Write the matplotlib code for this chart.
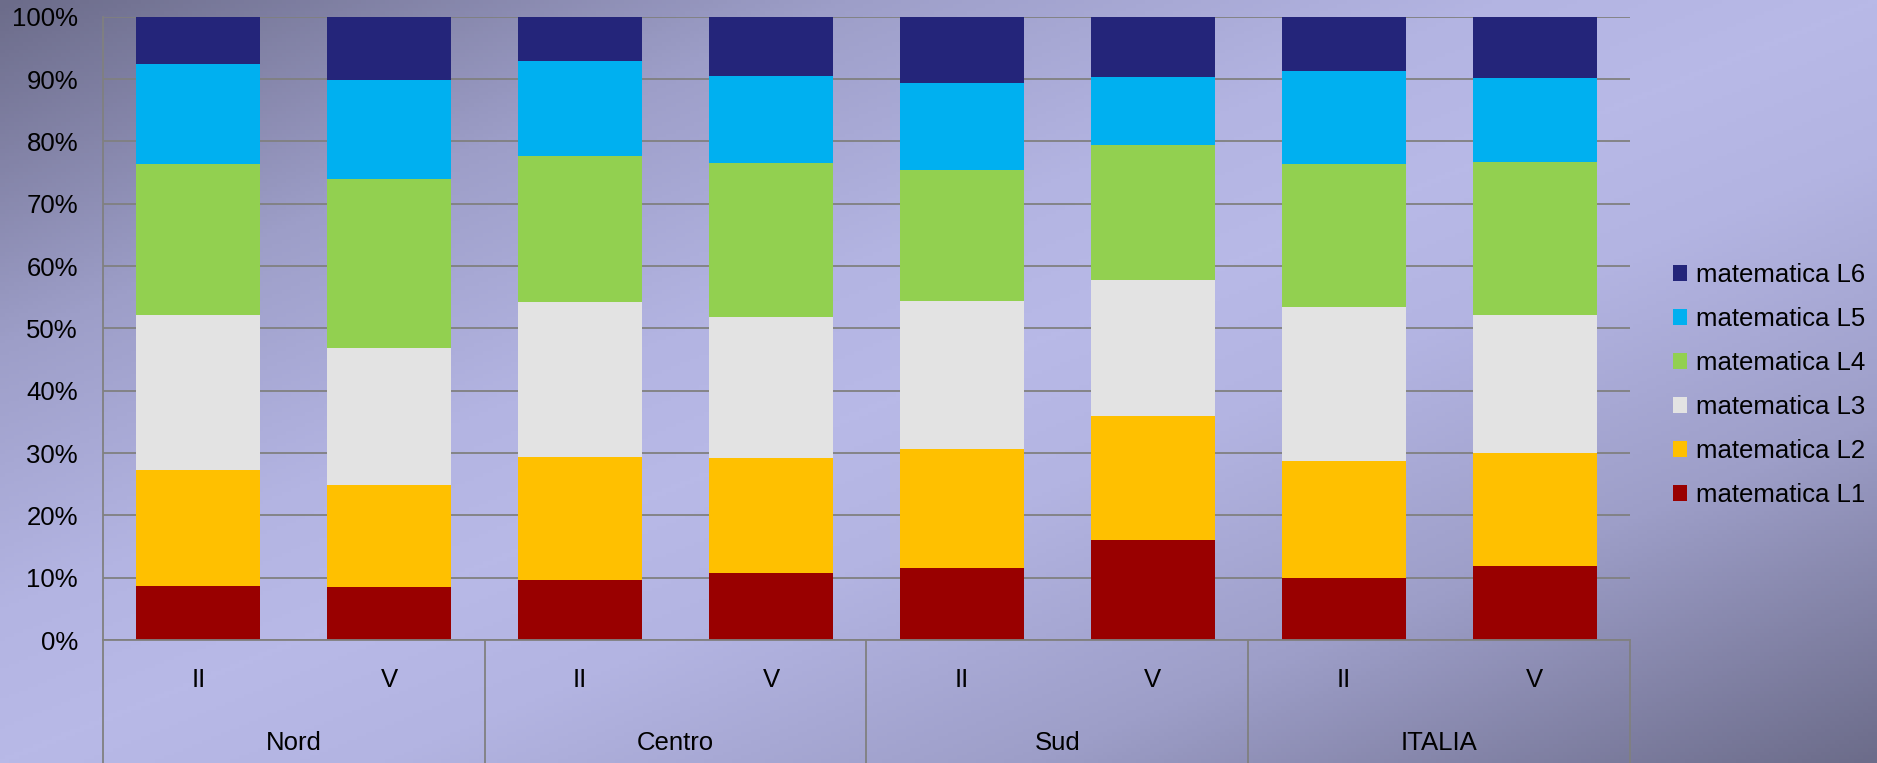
import numpy as np
import matplotlib
matplotlib.use("Agg")
import matplotlib.pyplot as plt
from matplotlib.colors import LinearSegmentedColormap

plt.rcParams['font.family'] = ['Liberation Sans', 'DejaVu Sans']

# dati (percentuali per livello)
regioni = ["Nord", "Centro", "Sud", "ITALIA"]
classi = ["II", "V", "II", "V", "II", "V", "II", "V"]
livelli = ["matematica L1", "matematica L2", "matematica L3",
           "matematica L4", "matematica L5", "matematica L6"]
L1 = [8.7, 8.5, 9.7, 10.8, 11.6, 16.1, 9.9, 11.9]
L2 = [18.6, 16.4, 19.7, 18.4, 19.0, 19.9, 18.9, 18.1]
L3 = [24.9, 21.9, 24.9, 22.6, 23.8, 21.8, 24.7, 22.1]
L4 = [24.2, 27.2, 23.3, 24.7, 21.0, 21.6, 22.8, 24.6]
L5 = [16.1, 15.8, 15.3, 14.0, 14.0, 11.0, 15.0, 13.5]
L6 = [7.5, 10.2, 7.1, 9.5, 10.6, 9.6, 8.7, 9.8]
colori = ["#990000", "#FFC000", "#E3E3E3", "#92D050", "#00B0F0", "#24257A"]

FS = 18.5
W, H = 1877, 763
fig = plt.figure(figsize=(W / 100, H / 100), dpi=100)

# sfondo sfumato in diagonale
bg = fig.add_axes([0, 0, 1, 1], zorder=-1)
xx, yy = np.meshgrid(np.linspace(0, 1, 400), np.linspace(0, 1, 200))
t = (xx + yy) / 2
v = 1 - np.abs(t - 0.5) * 2
cmap = LinearSegmentedColormap.from_list("bg", [(0, "#6c6c8a"), (0.45, "#9d9ec8"), (0.8, "#b3b4e2"), (1, "#b8b9e7")])
bg.imshow(v, cmap=cmap, aspect="auto", extent=[0, 1, 0, 1], origin="upper")
bg.axis("off")

left, right, top, bottom = 103, 1630, 16.8, 640
ax = fig.add_axes([left / W, 1 - bottom / H, (right - left) / W, (bottom - top) / H])
ax.set_facecolor("none")

x = np.arange(len(classi))
serie = [L1, L2, L3, L4, L5, L6]
tot = np.array(serie).sum(axis=0)
base = np.zeros(len(classi))
barre = []
for vals, col, lab in zip(serie, colori, livelli):
    perc = np.array(vals) / tot * 100
    b = ax.bar(x, perc, 0.65, bottom=base, color=col, label=lab, linewidth=0)
    barre.append(b)
    base += perc

ax.set_xlim(-0.5, len(classi) - 0.5)
ax.set_ylim(0, 100)
ax.set_yticks(np.arange(0, 101, 10))
ax.set_yticklabels([f"{v}%" for v in range(0, 101, 10)], fontsize=FS)
ax.tick_params(axis="y", length=0, pad=18)
ax.set_xticks([])
ax.set_axisbelow(True)
ax.yaxis.grid(True, color="#808080", linewidth=1.3)
for s in ["top", "right", "bottom"]:
    ax.spines[s].set_visible(False)
ax.spines["left"].set_color("#808080")
ax.spines["left"].set_linewidth(1.3)

# etichette asse x su due livelli
trans = ax.get_xaxis_transform()
h_ax = bottom - top
for i, c in enumerate(classi):
    ax.text(i, -40 / h_ax, c, transform=trans, ha="center", va="center", fontsize=FS)
for j, r in enumerate(regioni):
    ax.text(2 * j + 0.5, -103 / h_ax, r, transform=trans, ha="center", va="center", fontsize=FS)
fondo = -(H - bottom) / h_ax
ax.plot([-0.5, len(classi) - 0.5], [0, 0], transform=trans, color="#808080", lw=1.3, clip_on=False)
for k in np.arange(-0.5, len(classi), 2):
    ax.plot([k, k], [0, fondo], transform=trans, color="#808080", lw=1.3, clip_on=False)

leg = fig.legend(barre[::-1], livelli[::-1], loc="center left",
                 bbox_to_anchor=(1673 / W, 1 - 385 / H), frameon=False,
                 fontsize=FS, handlelength=0.55, handleheight=0.55,
                 handletextpad=0.35, labelspacing=0.78, borderpad=0, borderaxespad=0)

fig.savefig("out.png", dpi=100)
